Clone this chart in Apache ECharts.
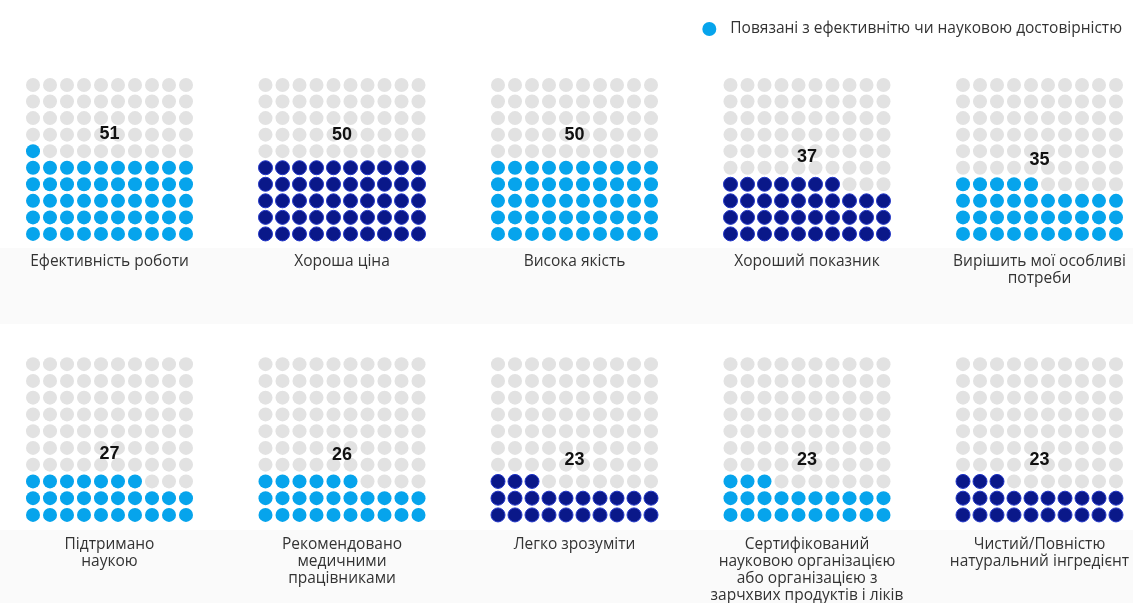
<!DOCTYPE html>
<html>
<head>
<meta charset="utf-8">
<script src="https://cdn.jsdelivr.net/npm/echarts@6/dist/echarts.min.js"></script>
<style>
  html, body { margin: 0; padding: 0; background: #fff; }
  #chart { width: 1133px; height: 603px; }
</style>
</head>
<body>
<div id="chart"></div>
<script>
const chartDom = document.getElementById("chart");
let myChart = echarts.init(chartDom);

/** chart data */
const categories = [
  "Ефективність роботи",
  "Хороша ціна",
  "Висока якість",
  "Хороший показник",
  "Вирішить мої особливі\nпотреби",
  "Підтримано\nнаукою",
  "Рекомендовано\nмедичними\nпрацівниками",
  "Легко зрозуміти",
  "Сертифікований\nнауковою організацією\nабо організацією з\nзарчхвих продуктів і ліків",
  "Чистий/Повністю\nнатуральний інгредієнт"
];
const values = [51, 50, 50, 37, 35, 27, 26, 23, 23, 23];
// true = related to efficiency or scientific credibility
const related = [true, false, true, false, true, true, true, false, true, false];
const legendName = "Повязані з ефективнітю чи науковою достовірністю";
const otherName = "Інші";

const cyan = "#06a4ec";
const navy = "#0a1889";
const grey = "#e2e2e2";

/** layout per small multiple */
const colStep = 232.5;
const gridW = 170;
const grids = [], xAxes = [], yAxes = [], series = [], titles = [];

for (let i = 0; i < values.length; i++) {
  const col = i % 5;
  const row = Math.floor(i / 5);
  const left = 24.5 + colStep * col;
  const top = row === 0 ? 76.7 : 355.8;
  const height = row === 0 ? 165.5 : 167.5;
  grids.push({ left: left, top: top, width: gridW, height: height });
  xAxes.push({ type: "value", gridIndex: i, min: -0.5, max: 9.5, show: false });
  yAxes.push({ type: "value", gridIndex: i, min: -0.5, max: 9.5, show: false });

  const filled = [], empty = [];
  for (let k = 0; k < 100; k++) {
    const pt = [k % 10, Math.floor(k / 10)];
    if (k < values[i]) filled.push(pt); else empty.push(pt);
  }

  series.push({
    type: "scatter", xAxisIndex: i, yAxisIndex: i, silent: true,
    symbolSize: 14, itemStyle: { color: grey, opacity: 1 }, data: empty
  });
  series.push({
    name: related[i] ? legendName : otherName,
    type: "scatter", xAxisIndex: i, yAxisIndex: i, silent: true,
    symbolSize: 14,
    itemStyle: related[i]
      ? { color: cyan, opacity: 1 }
      : { color: navy, borderColor: "#2236c8", borderWidth: 1, opacity: 1 },
    data: filled
  });
  // value label
  series.push({
    type: "scatter", xAxisIndex: i, yAxisIndex: i, silent: true,
    symbolSize: 0,
    itemStyle: { opacity: 1 },
    label: {
      show: true, position: "inside",
      formatter: String(values[i]),
      fontFamily: "Liberation Sans", fontWeight: "bold", fontSize: 18, color: "#111"
    },
    data: [[4.5, values[i] / 10 + 0.95]]
  });

  titles.push({
    text: categories[i],
    left: left + gridW / 2,
    top: row === 0 ? 253.5 : 536.5,
    padding: 0,
    textAlign: "center",
    textStyle: {
      fontFamily: "Open Sans", fontWeight: "normal", fontSize: 15.5,
      lineHeight: 17, color: "#333"
    }
  });
}

let option = {
  backgroundColor: "#fff",
  animation: false,
  graphic: [
    { type: "rect", shape: { x: 0, y: 248, width: 1133, height: 76 }, style: { fill: "#fafafa" }, z: -10 },
    { type: "rect", shape: { x: 0, y: 530, width: 1133, height: 73 }, style: { fill: "#fafafa" }, z: -10 }
  ],
  title: titles,
  legend: {
    data: [{ name: legendName, icon: "circle" }],
    right: 6, top: 16,
    itemWidth: 14, itemHeight: 14, itemGap: 10,
    textStyle: { fontFamily: "Open Sans", fontSize: 15.5, color: "#333", padding: [0, 0, 0, 9] }
  },
  grid: grids,
  xAxis: xAxes,
  yAxis: yAxes,
  series: series
};

option && myChart.setOption(option);
</script>
</body>
</html>
